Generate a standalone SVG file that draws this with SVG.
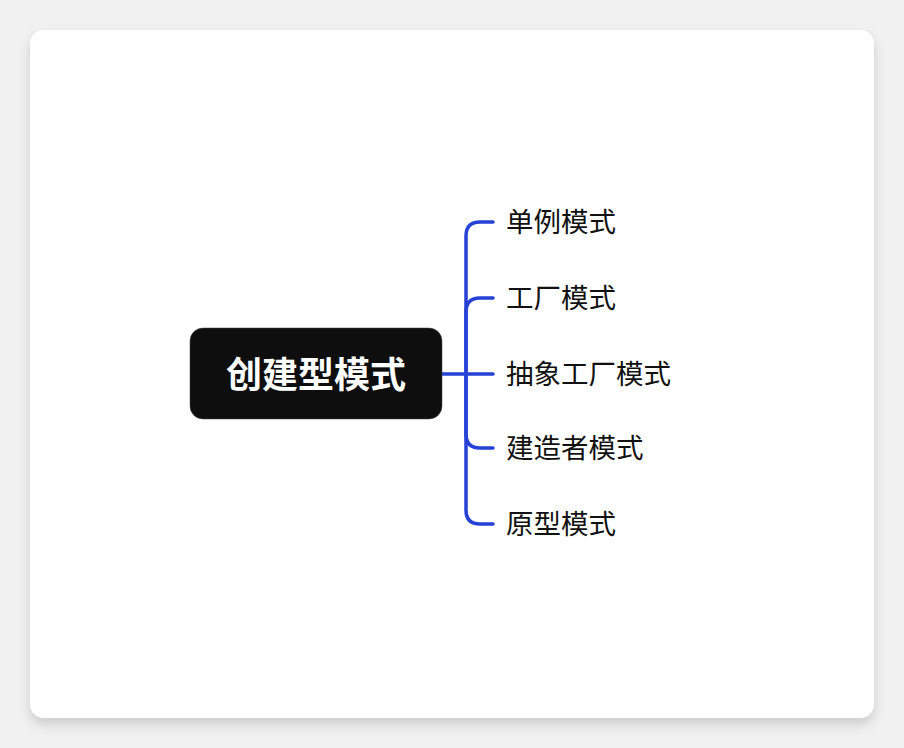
<svg xmlns="http://www.w3.org/2000/svg" width="904" height="748" viewBox="0 0 904 748">
<defs>
<filter id="sh" x="-10%" y="-10%" width="120%" height="125%">
<feDropShadow dx="0" dy="6" stdDeviation="6" flood-color="#000" flood-opacity="0.16"/>
</filter>
<style>
.lbl{font-family:"Noto Sans CJK SC","Noto Sans",sans-serif;font-size:27.5px;fill:#111;dominant-baseline:central}
.root{font-family:"Noto Sans CJK SC","Noto Sans",sans-serif;font-size:36px;font-weight:bold;fill:#fff;dominant-baseline:central;text-anchor:middle}
.edge{fill:none;stroke:#2541d6;stroke-width:3.5;stroke-linecap:round;stroke-linejoin:round}
</style>
</defs>
<rect width="904" height="748" fill="#f1f1f1"/>
<rect x="30" y="30" width="844" height="688" rx="14" fill="#fff" filter="url(#sh)"/>
<g id="connectors">
<path class="edge" d="M442,374 H493"/>
<path class="edge" d="M466,374 V236 Q466,222 480,222 H493"/>
<path class="edge" d="M466,374 V312 Q466,298 480,298 H493"/>
<path class="edge" d="M466,374 V434 Q466,448 480,448 H493"/>
<path class="edge" d="M466,374 V510 Q466,524 480,524 H493"/>
</g>
<g id="root">
<rect x="190" y="328" width="252" height="91" rx="13" fill="#0e0e0e" stroke="#444" stroke-width="0.5"/>
<text class="root" x="316" y="372">创建型模式</text>
</g>
<g id="n1"><text class="lbl" x="506" y="220">单例模式</text></g>
<g id="n2"><text class="lbl" x="506" y="296">工厂模式</text></g>
<g id="n3"><text class="lbl" x="506" y="372">抽象工厂模式</text></g>
<g id="n4"><text class="lbl" x="506" y="446">建造者模式</text></g>
<g id="n5"><text class="lbl" x="506" y="522">原型模式</text></g>
</svg>
